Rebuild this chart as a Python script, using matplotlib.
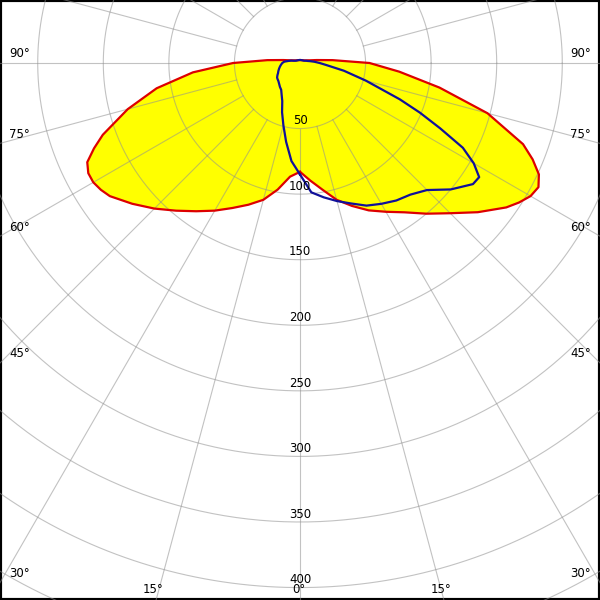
"""Polar luminous intensity diagram (C0-C180 filled, C90-C270 outline)."""
import numpy as np
import matplotlib

matplotlib.use("Agg")
import matplotlib.pyplot as plt

# gamma angles (deg from nadir) shared by all half-planes
gamma = [0, 5, 10, 15, 20, 25, 30, 35, 40, 45, 50, 55, 57.5, 60, 62.5, 65, 67.5, 70, 75, 80, 85, 90,
         95, 100, 105, 110, 120, 135, 150, 165, 180]

# intensity values (cd/klm)
red_left = [83, 87, 98, 108, 115, 122, 130, 138, 147, 157, 167, 177, 180, 182, 182, 179, 170, 160, 136,
            111, 82, 51, 25, 13, 8, 6, 4, 3, 2.5, 2.3, 2.3]
red_right = [83, 90, 98, 108, 116, 124, 131, 139, 150, 162, 177, 192, 198, 203, 205, 201, 192, 181, 148,
             108, 76, 53, 25, 13, 8, 6, 4, 3, 2.5, 2.3, 2.3]
blue_left = [85, 75, 61, 49, 40, 32, 28, 25, 23.8, 22.5, 21.5, 21, 20.7, 20, 19.3, 18.5, 18, 17.5, 16.5,
             15.5, 14.5, 13.5, 12, 9, 7, 5, 3.5, 2.8, 2.5, 2.3, 2.3]
blue_right = [85, 99, 104, 109, 114, 120, 124, 128, 131, 137, 150, 161, 162, 153, 140, 118, 99, 81, 52,
              34, 21, 15, 11, 8, 6, 5, 3.5, 2.8, 2.5, 2.3, 2.3]

ring_values = [50, 100, 150, 200, 250, 300, 350, 400]
angle_ticks = [90, 75, 60, 45, 30]
bottom_ticks = [15, 0]

PX = 1.3114          # pixels per intensity unit
CX, CY = 300, 63     # pole position in pixels


def to_xy(g, vals, side):
    g = np.radians(np.asarray(g, dtype=float))
    v = np.asarray(vals, dtype=float)
    return side * v * np.sin(g), -v * np.cos(g)


def closed_curve(left, right):
    xl, yl = to_xy(gamma, left, -1)
    xr, yr = to_xy(gamma, right, 1)
    x = np.concatenate([xl, xr[::-1]])
    y = np.concatenate([yl, yr[::-1]])
    return x, y


fig = plt.figure(figsize=(6, 6), dpi=100)
ax = fig.add_axes([0, 0, 1, 1])
ax.set_xlim(-CX / PX, (600 - CX) / PX)
ax.set_ylim(-(600 - CY) / PX, CY / PX)
ax.set_aspect("equal")
ax.set_xticks([])
ax.set_yticks([])
for sp in ax.spines.values():
    sp.set_linewidth(3)
    sp.set_color("black")

grid_kw = dict(color="#909090", alpha=0.55, lw=0.8, zorder=3)

# rings
t = np.linspace(0, 2 * np.pi, 721)
for r in range(50, 501, 50):
    ax.plot(r * np.cos(t), r * np.sin(t), **grid_kw)

# spokes every 15 degrees, starting at the first ring
for a in range(0, 360, 15):
    ar = np.radians(a)
    ax.plot([50 * np.sin(ar), 600 * np.sin(ar)], [-50 * np.cos(ar), -600 * np.cos(ar)], **grid_kw)

# C0-C180 plane, filled
xr_, yr_ = closed_curve(red_left, red_right)
ax.fill(xr_, yr_, color="#ffff00", zorder=2, lw=0)
ax.plot(xr_, yr_, color="#dd0000", lw=1.6, zorder=4, solid_joinstyle="round")

# C90-C270 plane, outline
xb, yb = closed_curve(blue_left, blue_right)
ax.plot(xb, yb, color="#10109a", lw=1.6, zorder=5, solid_joinstyle="round")

font = dict(fontsize=8.5, family="DejaVu Sans", color="black", zorder=6)

# ring labels along the nadir line
for r in ring_values:
    ax.text(0, -r + 1, str(r), ha="center", va="bottom", **font)

# side angle labels
for a in angle_ticks:
    y_px = CY + 300 / np.tan(np.radians(a)) if a != 90 else CY
    y = -(y_px - CY) / PX + 2
    ax.text(-CX / PX + 7, y, f"{a}°", ha="left", va="bottom", **font)
    ax.text((600 - CX) / PX - 7, y, f"{a}°", ha="right", va="bottom", **font)

# bottom angle labels
y_bot = -(600 - CY) / PX + 3
for a in bottom_ticks:
    x = (600 - CY) / PX * np.tan(np.radians(a))
    if a == 0:
        ax.text(-1, y_bot, "0°", ha="center", va="bottom", **font)
    else:
        ax.text(-x - 2, y_bot, f"{a}°", ha="center", va="bottom", **font)
        ax.text(x - 2, y_bot, f"{a}°", ha="center", va="bottom", **font)

fig.savefig("out.png", dpi=100)
